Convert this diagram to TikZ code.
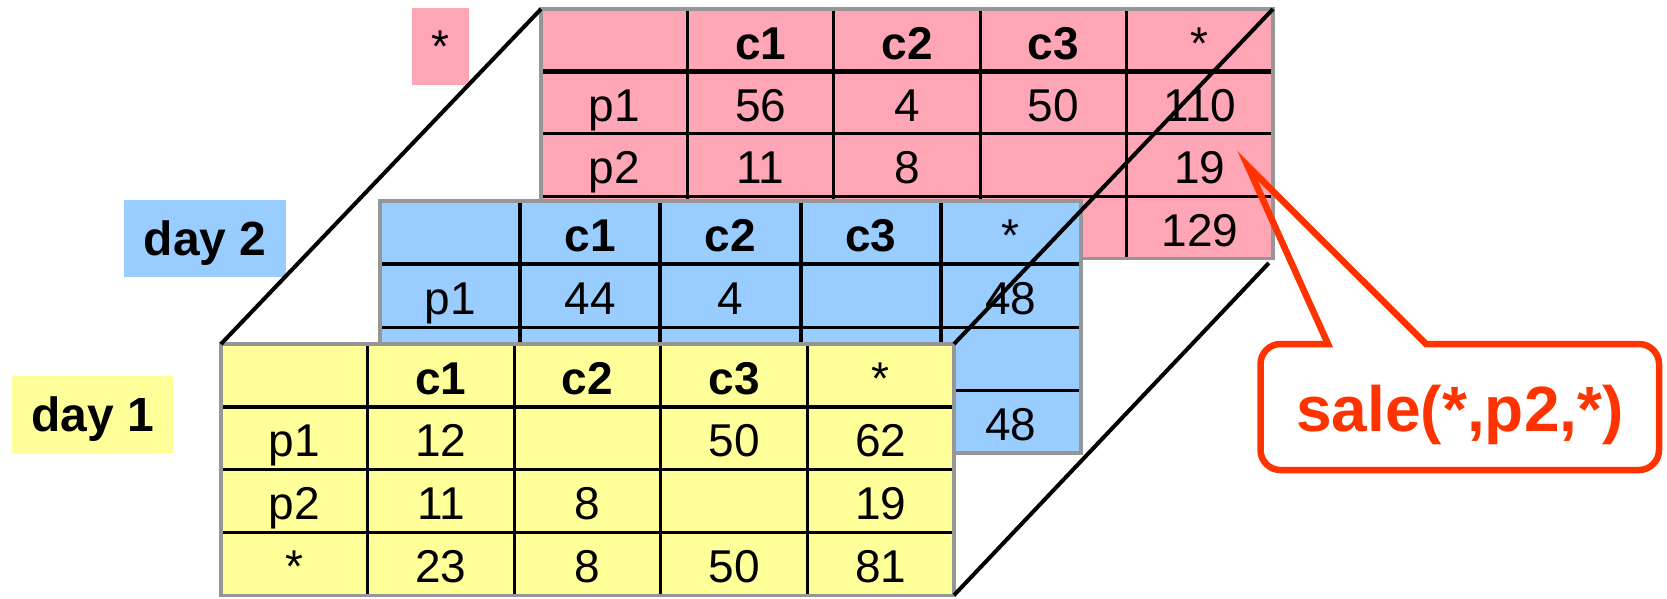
\documentclass[tikz,border=0pt]{standalone}
\usepackage{fontspec}
\setmainfont{Liberation Sans}
\usepackage{tikz}

\definecolor{pinkcell}{HTML}{FFA6B6}
\definecolor{bluecell}{HTML}{99CCFF}
\definecolor{yellowcell}{HTML}{FFFF99}
\definecolor{framegray}{HTML}{969696}
\definecolor{queryred}{HTML}{FF3300}

\newcommand{\cellfont}{\fontsize{46}{50}\selectfont}
\newcommand{\headfont}{\fontsize{46}{50}\selectfont\bfseries}
\newcommand{\labelfont}{\fontsize{48}{52}\selectfont\bfseries}
\newcommand{\queryfont}{\fontsize{64}{70}\selectfont\bfseries}

\begin{document}
\begin{tikzpicture}[x=1pt, y=-1pt]

    \useasboundingbox (0,0) rectangle (1667,598);

    \tikzset{
      slab/.style={anchor=north west, inner sep=0pt, outer sep=0pt},
      frame/.style={draw=framegray, line width=3.3pt},
      rule/.style={line width=3pt},
      headrule/.style={line width=4.5pt},
      cell/.style={anchor=base, inner sep=0pt, font=\cellfont},
      head/.style={anchor=base, inner sep=0pt, font=\headfont},
      tag/.style={inner sep=0pt, text depth=0pt, minimum height=76.7pt, font=\labelfont},
      edge/.style={line width=4pt},
      query/.style={draw=queryred, line width=6.5pt, line join=miter}
    }

    % Slice labels
    \node[tag, fill=pinkcell, minimum width=57.5pt, font=\cellfont] (alltag) at (440.4,46.7) {*};
    \node[tag, fill=bluecell, minimum width=162pt] (day2tag) at (205.2,238.4) {day 2};
    \node[tag, fill=yellowcell, minimum width=161.4pt] (day1tag) at (92.6,414.4) {day 1};

    % Slice * (sum over days)
    \node[slab, fill=pinkcell, minimum width=732pt, minimum height=249.6pt] (pink) at (541,9) {};
    \begin{scope}[shift={(pink.north west)}]
      \foreach \c in {1,...,4} \draw[rule] (\c*146.4,0) -- (\c*146.4,249.6);
      \foreach \r in {2,3} \draw[rule] (0,\r*62.4) -- (732,\r*62.4);
      \draw[headrule] (0,62.4) -- (732,62.4);
      \draw[frame] (0,0) rectangle (732,249.6);
      \foreach \t [count=\c] in {c1,c2,c3} \node[head] at ({(\c+0.5)*146.4},50) {\t};
      \node[cell] at (4.5*146.4,50) {*};
      \foreach \row [count=\r] in {{p1,56,4,50,110},{p2,11,8,,19},{,,,,129}}
        \foreach \t [count=\c from 0] in \row
          \node[cell] at ({(\c+0.5)*146.4},{\r*62.4+50}) {\t};
    \end{scope}

    % Slice day 2
    \node[slab, fill=bluecell, minimum width=701pt, minimum height=252pt] (blue) at (380,201) {};
    \begin{scope}[shift={(blue.north west)}]
      \foreach \c in {1,...,4} \draw[rule, line width=4pt] (\c*140.2,0) -- (\c*140.2,252);
      \foreach \r in {2,3} \draw[rule] (0,\r*63) -- (701,\r*63);
      \draw[headrule] (0,63) -- (701,63);
      \draw[frame] (0,0) rectangle (701,252);
      \foreach \t [count=\c] in {c1,c2,c3} \node[head] at ({(\c+0.5)*140.2},50.5) {\t};
      \node[cell] at (4.5*140.2,50.5) {*};
      \foreach \row [count=\r] in {{p1,44,4,,48},{,,,,},{,,,,48}}
        \foreach \t [count=\c from 0] in \row
          \node[cell] at ({(\c+0.5)*140.2},{\r*63+50.5}) {\t};
    \end{scope}

    % Slice day 1
    \node[slab, fill=yellowcell, minimum width=733pt, minimum height=251.2pt] (yellow) at (221,344) {};
    \begin{scope}[shift={(yellow.north west)}]
      \foreach \c in {1,...,4} \draw[rule] (\c*146.6,0) -- (\c*146.6,251.2);
      \foreach \r in {2,3} \draw[rule] (0,\r*62.8) -- (733,\r*62.8);
      \draw[headrule] (0,62.8) -- (733,62.8);
      \draw[frame] (0,0) rectangle (733,251.2);
      \foreach \t [count=\c] in {c1,c2,c3} \node[head] at ({(\c+0.5)*146.6},50) {\t};
      \node[cell] at (4.5*146.6,50) {*};
      \foreach \row [count=\r] in {{p1,12,,50,62},{p2,11,8,,19},{*,23,8,50,81}}
        \foreach \t [count=\c from 0] in \row
          \node[cell] at ({(\c+0.5)*146.6},{\r*62.8+50}) {\t};
    \end{scope}

    % Cube edges
    \draw[edge] (pink.north west) -- (yellow.north west);
    \draw[edge] (pink.north east) -- (yellow.north east);
    \draw[edge, shorten <=6pt] (pink.south east) -- (yellow.south east);

    % Callout
    \draw[query] (1500,344) [rounded corners=20pt] -- (1659,344) -- (1659,470)
      -- (1260.5,470) -- (1260.5,344) -- (1300,344) [sharp corners] -- (1328,344)
      -- (1247.7,166) -- (1426,344) -- cycle;
    \node[font=\queryfont, text=queryred, anchor=base, inner sep=0pt] (query) at (1460,431.7) {sale(*,p2,*)};

\end{tikzpicture}
\end{document}
